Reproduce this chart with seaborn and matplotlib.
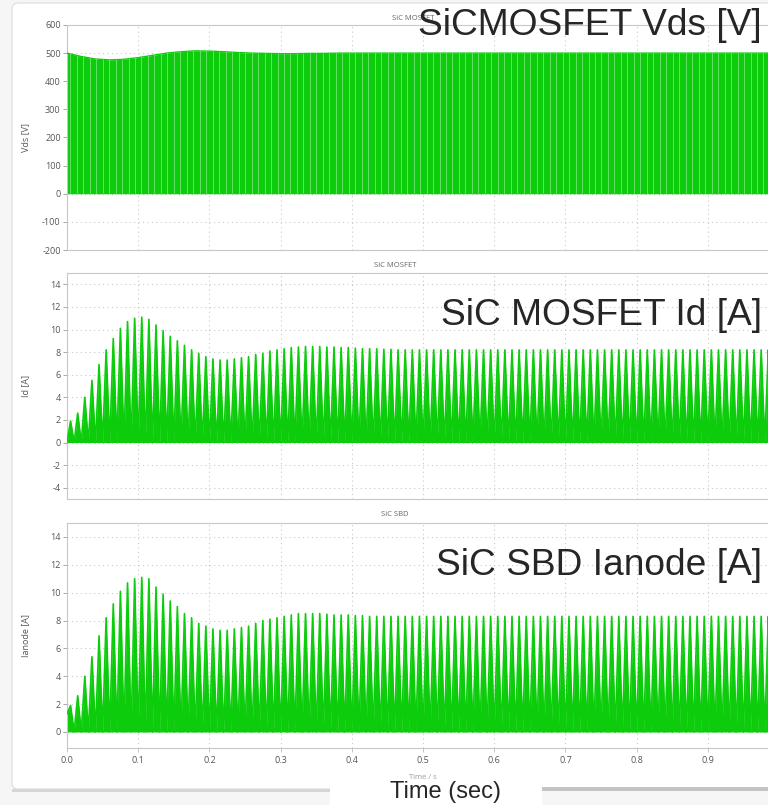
import numpy as np
import matplotlib
matplotlib.use('Agg')
import matplotlib.pyplot as plt
from matplotlib.patches import FancyBboxPatch, Rectangle
import seaborn as sns

sns.set_theme(style='white')
plt.rcParams['font.family'] = ['Open Sans', 'DejaVu Sans']
plt.rcParams['axes.unicode_minus'] = False

GREEN = '#0ccc0c'
STREAK = '#74e274'
GRID = '#c9c9c9'
TICK = '#555555'

# Vds envelope, read every 20 ms
vds_time = [0.00, 0.02, 0.04, 0.06, 0.08, 0.10, 0.12, 0.14, 0.16, 0.18,
            0.20, 0.22, 0.24, 0.26, 0.28, 0.30, 0.32, 0.34, 0.36, 0.38,
            0.40, 0.42, 0.44, 0.46, 0.48, 0.50, 0.52, 0.54, 0.56, 0.58,
            0.60, 0.62, 0.64, 0.66, 0.68, 0.70, 0.72, 0.74, 0.76, 0.78,
            0.80, 0.82, 0.84, 0.86, 0.88, 0.90, 0.92, 0.94, 0.96, 0.98, 1.00]
vds_env = [500, 488, 479, 476, 478, 484, 492, 500, 505, 508,
           507, 505, 502, 500, 499, 498, 498, 499, 499, 500,
           500, 500, 500, 500, 500, 500, 500, 500, 500, 500,
           500, 500, 500, 500, 500, 500, 500, 500, 500, 500,
           500, 500, 500, 500, 500, 500, 500, 500, 500, 500, 500]

# peak current of every 10 ms half-cycle (0.00 .. 0.99 s)
id_peaks = [1.9, 2.6, 4.0, 5.5, 6.9, 8.2, 9.2, 10.1, 10.7, 11.0,
            11.1, 10.9, 10.4, 9.9, 9.4, 9.0, 8.6, 8.2, 7.9, 7.6,
            7.4, 7.3, 7.3, 7.4, 7.5, 7.6, 7.8, 7.9, 8.1, 8.2,
            8.3, 8.4, 8.45, 8.5, 8.5, 8.5, 8.45, 8.45, 8.4, 8.4,
            8.35, 8.3, 8.3, 8.3, 8.25, 8.25, 8.2, 8.2, 8.2, 8.2,
            8.2, 8.2, 8.2, 8.2, 8.2, 8.2, 8.2, 8.2, 8.2, 8.2,
            8.2, 8.2, 8.2, 8.2, 8.2, 8.2, 8.2, 8.2, 8.2, 8.2,
            8.2, 8.2, 8.2, 8.2, 8.2, 8.2, 8.2, 8.2, 8.2, 8.2,
            8.2, 8.2, 8.2, 8.2, 8.2, 8.2, 8.2, 8.2, 8.2, 8.2,
            8.2, 8.2, 8.2, 8.2, 8.2, 8.2, 8.2, 8.2, 8.2, 8.2]
ianode_peaks = [1.9, 2.6, 4.0, 5.4, 6.9, 8.2, 9.2, 10.1, 10.7, 11.0,
                11.1, 11.0, 10.4, 9.9, 9.4, 9.0, 8.5, 8.2, 7.8, 7.6,
                7.4, 7.3, 7.3, 7.4, 7.5, 7.6, 7.8, 8.0, 8.1, 8.2,
                8.3, 8.4, 8.5, 8.5, 8.5, 8.5, 8.45, 8.4, 8.4, 8.4,
                8.35, 8.35, 8.3, 8.3, 8.3, 8.3, 8.3, 8.3, 8.3, 8.3,
                8.3, 8.3, 8.3, 8.3, 8.3, 8.3, 8.3, 8.3, 8.3, 8.3,
                8.3, 8.3, 8.3, 8.3, 8.3, 8.3, 8.3, 8.3, 8.3, 8.3,
                8.3, 8.3, 8.3, 8.3, 8.3, 8.3, 8.3, 8.3, 8.3, 8.3,
                8.3, 8.3, 8.3, 8.3, 8.3, 8.3, 8.3, 8.3, 8.3, 8.3,
                8.3, 8.3, 8.3, 8.3, 8.3, 8.3, 8.3, 8.3, 8.3, 8.3]
ianode_start = 1.3

vds_ticks = [-200, -100, 0, 100, 200, 300, 400, 500, 600]
id_ticks = [-4, -2, 0, 2, 4, 6, 8, 10, 12, 14]
ianode_ticks = [0, 2, 4, 6, 8, 10, 12, 14]
time_ticks = [0.0, 0.1, 0.2, 0.3, 0.4, 0.5, 0.6, 0.7, 0.8, 0.9]


def half_cycles(peaks, start=0.0):
    # zero at every line zero crossing, peak in the middle of each half-cycle
    t, y = [], []
    for k, p in enumerate(peaks):
        t += [0.01 * k, 0.01 * k + 0.005]
        y += [start if k == 0 else 0.0, p]
    t.append(0.01 * len(peaks))
    y.append(0.0)
    return np.array(t), np.array(y)


W, H = 768, 805
fig = plt.figure(figsize=(W / 100, H / 100), dpi=100)
fig.patch.set_facecolor('#f6f6f6')

# window panel
fig.patches.append(FancyBboxPatch((12 / W, 1 - 789 / H), 800 / W, 786 / H,
                                  boxstyle='round,pad=0,rounding_size=0.008',
                                  transform=fig.transFigure, facecolor='white',
                                  edgecolor='#dcdcdc', lw=0.8, zorder=-2))
fig.patches.append(Rectangle((12 / W, 1 - 792 / H), 318 / W, 3 / H,
                             transform=fig.transFigure, facecolor='#d6d6d6',
                             lw=0, zorder=-1))
fig.patches.append(Rectangle((542 / W, 1 - 791 / H), 226 / W, 4 / H,
                             transform=fig.transFigure, facecolor='#c4c4c4',
                             lw=0, zorder=-1))


def make_axes(top, bottom):
    ax = fig.add_axes([67 / W, 1 - bottom / H, 1 - 67 / W, (bottom - top) / H])
    ax.set_facecolor('white')
    for side in ['top', 'left', 'bottom']:
        ax.spines[side].set_color('#c8c8c8')
        ax.spines[side].set_linewidth(0.8)
    ax.spines['right'].set_visible(False)
    ax.set_xlim(0, (W - 67) / 712)
    ax.set_xticks(time_ticks)
    ax.grid(True, color=GRID, linestyle=(0, (1, 3)), linewidth=0.8)
    ax.tick_params(axis='y', left=True, length=3, width=0.6, color='#9a9a9a',
                   labelsize=6.5, labelcolor=TICK, pad=1.5)
    ax.tick_params(axis='x', bottom=True, length=3, width=0.6, color='#bbbbbb',
                   labelsize=6.5, labelcolor=TICK, pad=3)
    ax.yaxis.set_label_coords(-37 / (W - 67), 0.5)
    return ax


ax1 = make_axes(25, 250)
ax2 = make_axes(273, 499)
ax3 = make_axes(523, 748)

# Vds
poly = ax1.fill_between(vds_time, 0, vds_env, color=GREEN, lw=0, zorder=2)
sns.lineplot(x=vds_time, y=vds_env, ax=ax1, color=GREEN, lw=1.0, zorder=3)
streaks = ax1.vlines(np.arange(0.0045, 1.0, 0.0091), -200, 600,
                     color=STREAK, lw=0.6, zorder=3)
streaks.set_clip_path(poly.get_paths()[0], ax1.transData)
ax1.set_ylim(-200, 600)
ax1.set_yticks(vds_ticks)
ax1.set_ylabel('Vds [V]', fontsize=6.5, color=TICK)

# MOSFET drain current
t, y = half_cycles(id_peaks)
ax2.fill_between(t, 0, y, color=GREEN, lw=0, zorder=2)
sns.lineplot(x=t, y=y, ax=ax2, color=GREEN, lw=1.2, zorder=3)
ax2.set_ylim(-5, 15)
ax2.set_yticks(id_ticks)
ax2.set_ylabel('Id [A]', fontsize=6.5, color=TICK)

# SBD anode current
t, y = half_cycles(ianode_peaks, ianode_start)
ax3.fill_between(t, 0, y, color=GREEN, lw=0, zorder=2)
sns.lineplot(x=t, y=y, ax=ax3, color=GREEN, lw=1.2, zorder=3)
ax3.set_ylim(-1.15, 15)
ax3.set_yticks(ianode_ticks)
ax3.set_ylabel('Ianode [A]', fontsize=6.5, color=TICK)

for ax in (ax1, ax2):
    ax.tick_params(axis='x', bottom=False, labelbottom=False)
    ax.set_xlabel('')
ax3.set_xticklabels([f'{v:.1f}' for v in time_ticks])
ax3.set_xlabel('')

# small panel titles
fig.text(413 / W, 1 - 18 / H, 'SiC MOSFET', fontsize=5.5, color='#666666',
         ha='center', va='center')
fig.text(395 / W, 1 - 265 / H, 'SiC MOSFET', fontsize=5.5, color='#666666',
         ha='center', va='center')
fig.text(395 / W, 1 - 515 / H, 'SiC SBD', fontsize=5.5, color='#666666',
         ha='center', va='center')
fig.text(423 / W, 1 - 777 / H, 'Time / s', fontsize=5.5, color='#9a9a9a',
         ha='center', va='center')

# white box behind the bottom caption
fig.patches.append(Rectangle((330 / W, 0), 212 / W, 22 / H,
                             transform=fig.transFigure, facecolor='white',
                             lw=0, zorder=0))

# large overlay captions
big = dict(family=['Liberation Sans', 'DejaVu Sans'], color='#262626')
fig.text(762 / W, 1 - 35 / H, 'SiCMOSFET Vds [V]', fontsize=26.7, ha='right',
         va='baseline', **big)
fig.text(762 / W, 1 - 325 / H, 'SiC MOSFET Id [A]', fontsize=26.7, ha='right',
         va='baseline', **big)
fig.text(762 / W, 1 - 575 / H, 'SiC SBD Ianode [A]', fontsize=26.7, ha='right',
         va='baseline', **big)
fig.text(390 / W, 1 - 798 / H, 'Time (sec)', fontsize=17, ha='left',
         va='baseline', **big)

fig.savefig('out.png', dpi=100, facecolor=fig.get_facecolor())
